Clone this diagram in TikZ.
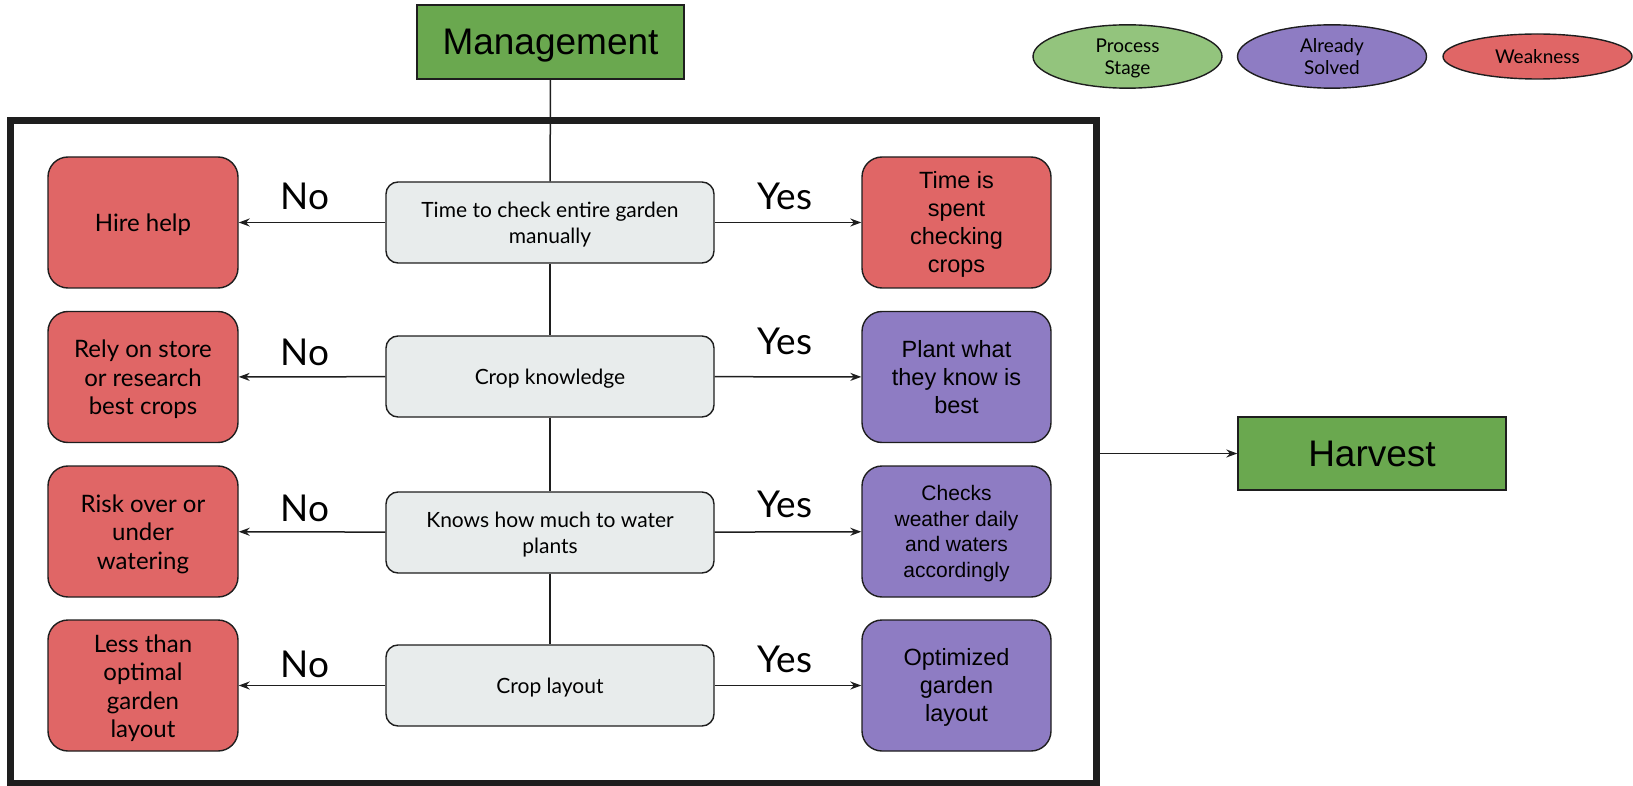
\documentclass[tikz,border=0pt]{standalone}
\usepackage{fontspec}
\setmainfont{Lato}
\newfontfamily\arialfont{Liberation Sans}
\usetikzlibrary{arrows.meta,shapes.geometric}
\definecolor{weak}{HTML}{E06666}
\definecolor{solved}{HTML}{8E7CC3}
\definecolor{stage}{HTML}{6AA84F}
\definecolor{stagelight}{HTML}{93C47D}
\definecolor{qfill}{HTML}{E8ECEC}
\definecolor{ink}{HTML}{1E1E1E}
% struts: font ascent (first line) and descent (last line)
\newcommand\lsa{\vrule height .987em depth 0pt width 0pt}
\newcommand\lsb{\vrule height 0pt depth .213em width 0pt}
\newcommand\asa{\vrule height .905em depth 0pt width 0pt}
\newcommand\asb{\vrule height 0pt depth .212em width 0pt}
\tikzset{
  base/.style={draw=ink, line width=1.4pt, align=center, inner sep=0pt},
  weakbox/.style={base, fill=weak, rounded corners=20pt, minimum width=190pt, minimum height=131pt, font=\fontsize{24}{28.5}\selectfont},
  solvedbox/.style={base, fill=solved, rounded corners=20pt, minimum width=189pt, minimum height=131pt, font=\arialfont\fontsize{23.5}{28}\selectfont},
  weakrbox/.style={solvedbox, fill=weak},
  qbox/.style={base, fill=qfill, rounded corners=12pt, minimum width=328pt, minimum height=81pt, font=\fontsize{21}{26}\selectfont},
  stagebox/.style={base, fill=stage, minimum width=267pt, minimum height=74pt, font=\arialfont\fontsize{37}{40}\selectfont},
  legend/.style={base, ellipse, minimum width=189pt, minimum height=45pt, font=\fontsize{19}{22}\selectfont},
  lbl/.style={font=\fontsize{37}{40}\selectfont, inner sep=0pt},
  arr/.style={draw=ink, line width=1.5pt, -{Stealth[length=11pt,width=8pt]}},
  ln/.style={draw=ink, line width=1.5pt},
}
\begin{document}
\begin{tikzpicture}[x=1pt,y=-1pt]
\useasboundingbox (0,0) rectangle (1633,786);
% frame
\node[draw=ink, line width=7pt, minimum width=1086pt, minimum height=662pt, inner sep=0pt] (frame) at (553,452) {};
% top
\node[stagebox] (mgmt) at (550.5,42) {\asa Management\asb};
\node[stagebox, minimum width=268pt, minimum height=73pt] (harvest) at (1372,453.5) {\asa Harvest\asb};
% legend
\node[legend, fill=stagelight] (lg1) at (1127.5,56.5) {\lsa Process\\Stage\lsb};
\node[legend, fill=solved] (lg2) at (1332,56.5) {\lsa Already\\Solved\lsb};
\node[legend, fill=weak] (lg3) at (1537.5,56.5) {\lsa Weakness\lsb};
% questions
\node[qbox] (q1) at (550,222.5) {\lsa Time to check entire garden\\manually\lsb};
\node[qbox] (q2) at (550,376.5) {\lsa Crop knowledge\lsb};
\node[qbox] (q3) at (550,532.5) {\lsa Knows how much to water\\plants\lsb};
\node[qbox] (q4) at (550,685.5) {\lsa Crop layout\lsb};
% left
\node[weakbox] (w1) at (143,222.5) {\lsa Hire help\lsb};
\node[weakbox] (w2) at (143,377) {\lsa Rely on store\\or research\\best crops\lsb};
\node[weakbox] (w3) at (143,531.5) {\lsa Risk over or\\under\\watering\lsb};
\node[weakbox] (w4) at (143,685.5) {\lsa Less than\\optimal\\garden\\layout\lsb};
% right
\node[weakrbox] (r1) at (956.5,222.5) {\asa Time is\\spent\\checking\\crops\asb};
\node[solvedbox] (r2) at (956.5,377) {\asa Plant what\\they know is\\best\asb};
\node[solvedbox, font=\arialfont\fontsize{21}{25.5}\selectfont] (r3) at (956.5,531.5) {\asa Checks\\weather daily\\and waters\\accordingly\asb};
\node[solvedbox] (r4) at (956.5,685.5) {\asa Optimized\\garden\\layout\asb};
% vertical spine
\draw[ln] (mgmt) -- (q1);
\draw[ln] (q1) -- (q2);
\draw[ln] (q2) -- (q3);
\draw[ln] (q3) -- (q4);
% arrows
\draw[arr] (q1) -- (w1);
\draw[arr] (q2) -- (w2);
\draw[arr] (q3) -- (w3);
\draw[arr] (q4) -- (w4);
\draw[arr] (q1) -- (r1);
\draw[arr] (q2) -- (r2);
\draw[arr] (q3) -- (r3);
\draw[arr] (q4) -- (r4);
\draw[arr] (frame.east |- harvest.west) -- (harvest.west);
% labels
\node[lbl] (n1) at (305,196) {No};
\node[lbl] (n2) at (305,352) {No};
\node[lbl] (n3) at (305,508) {No};
\node[lbl] (n4) at (305,664) {No};
\node[lbl] (y1) at (785,196) {Yes};
\node[lbl] (y2) at (785,341) {Yes};
\node[lbl] (y3) at (785,504) {Yes};
\node[lbl] (y4) at (785,659) {Yes};
\end{tikzpicture}
\end{document}
